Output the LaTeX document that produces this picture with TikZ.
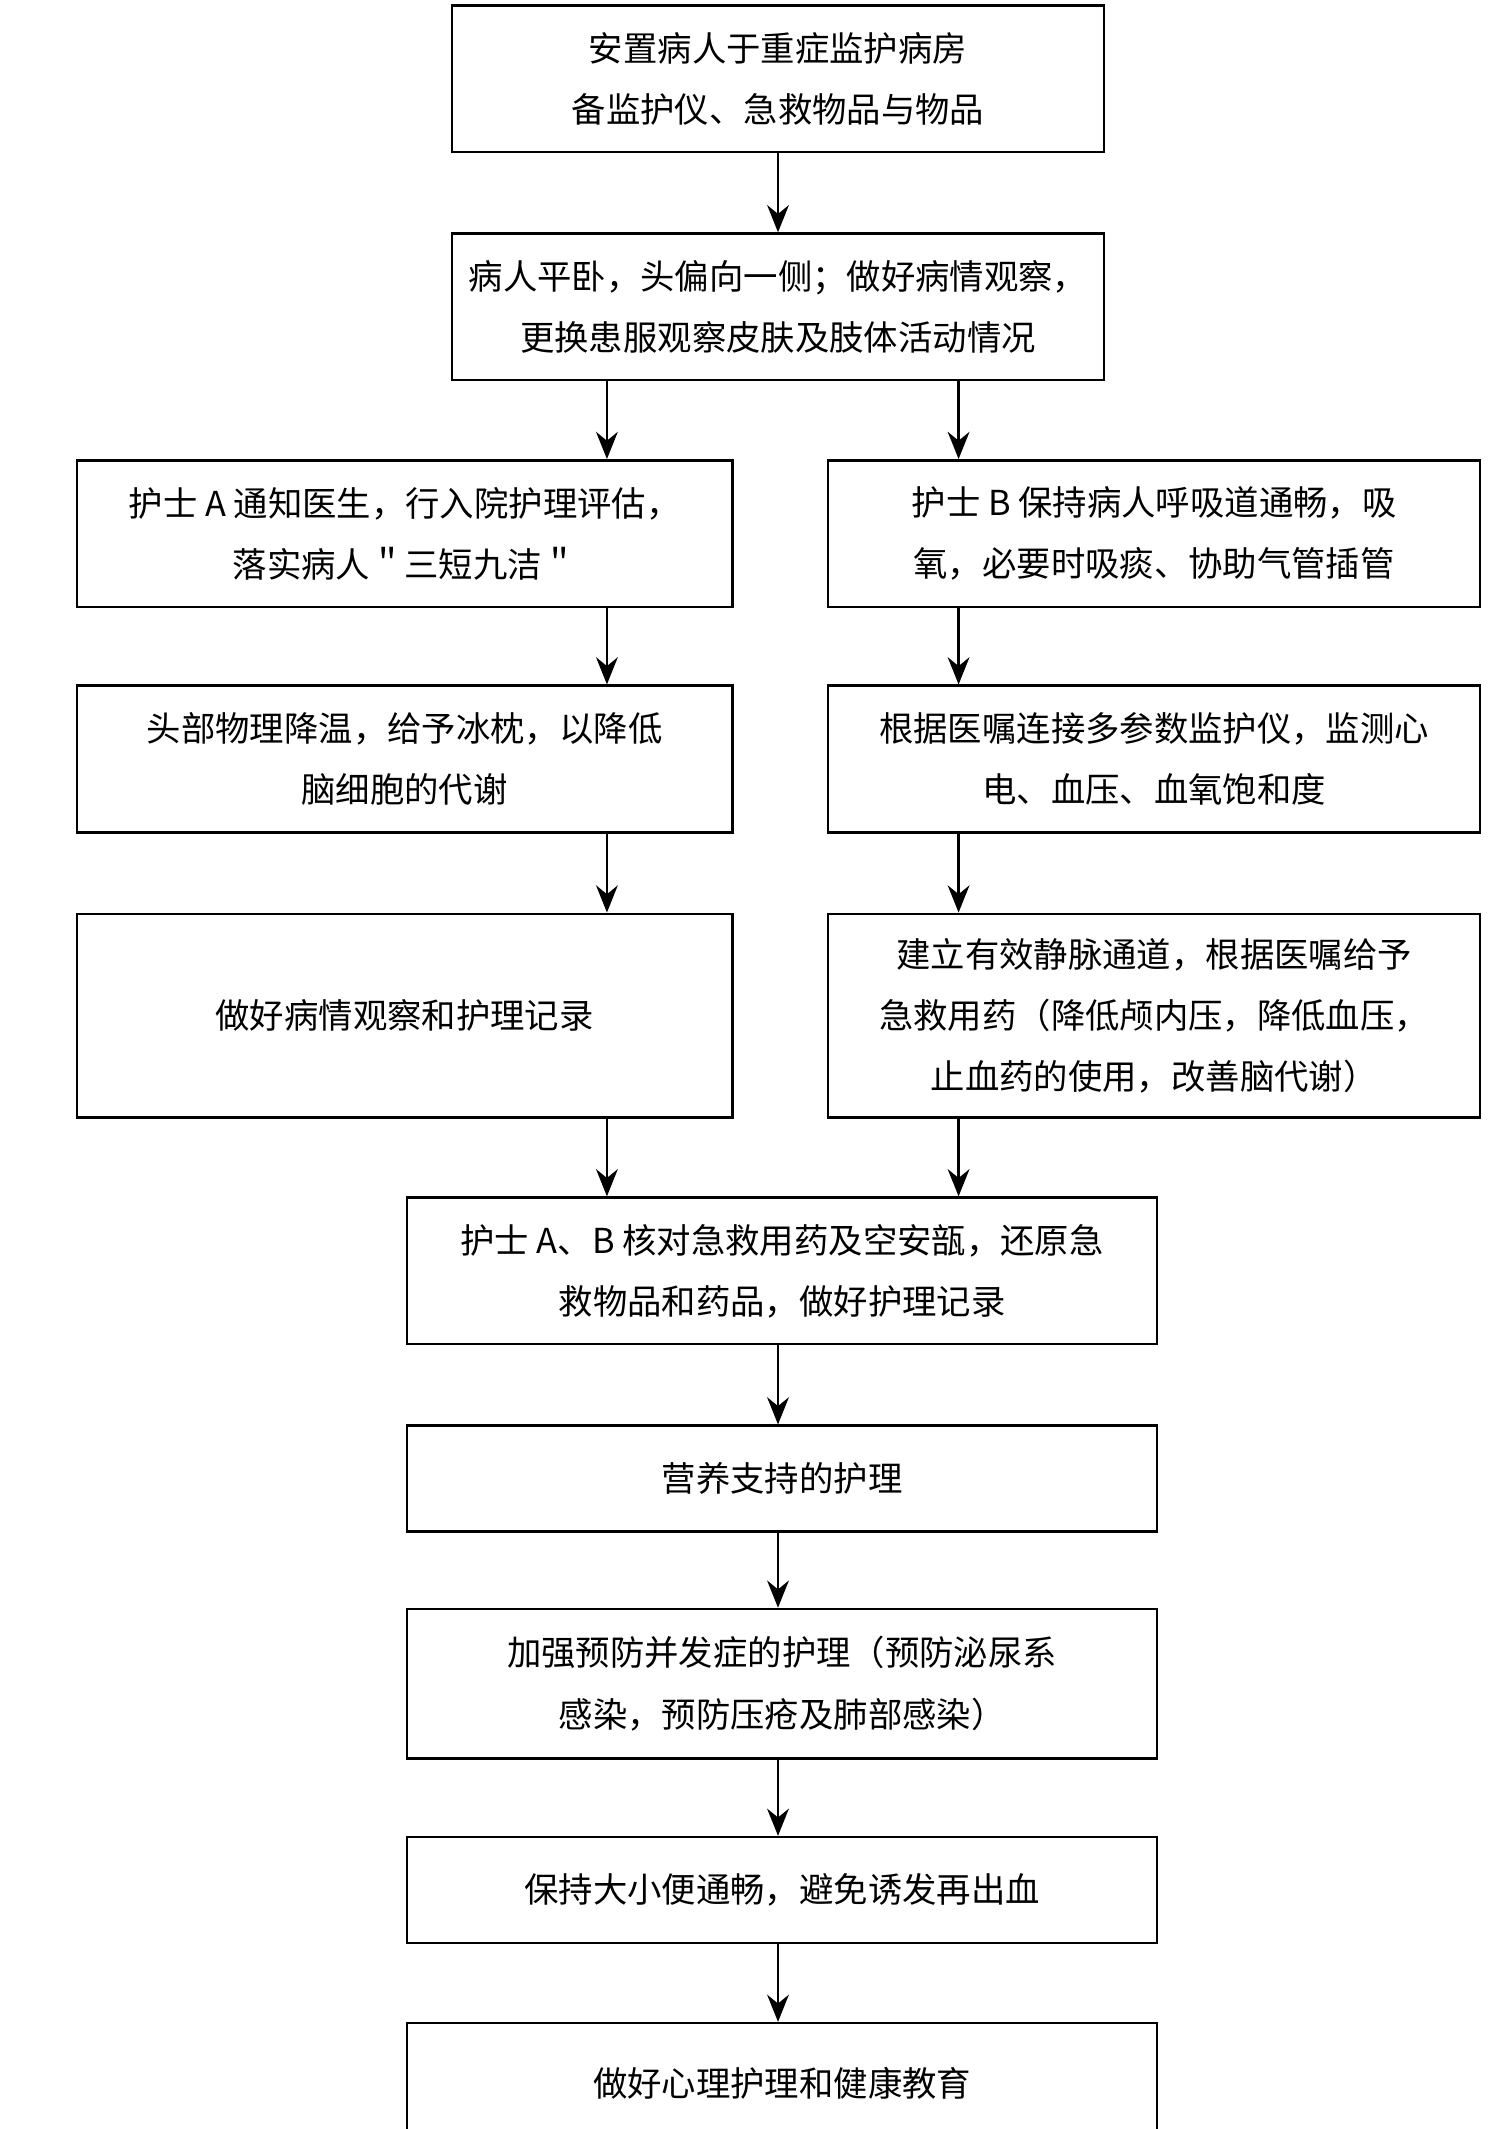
\documentclass[tikz,border=0pt]{standalone}
\usepackage{fontspec}
\setmainfont{Noto Sans CJK SC}
\usetikzlibrary{arrows.meta}
\begin{document}
\begin{tikzpicture}[x=0.025cm, y=-0.025cm, line width=1.3pt,
    box/.style = {draw, align=center, font=\fontsize{18}{32}\selectfont},
    arr/.style = {-{Stealth[length=5mm,width=4mm]}}]
    \useasboundingbox (0,0) rectangle (1097,1568);
    \coordinate (xl) at (447,0);
    \coordinate (xm) at (573,0);
    \coordinate (xr) at (706,0);
    \node[box, minimum width=12cm, minimum height=2.7cm] (b1) at (573,58) {安置病人于重症监护病房\\备监护仪、急救物品与物品};
    \node[box, minimum width=12cm, minimum height=2.7cm] (b2) at (573,226) {病人平卧，头偏向一侧；做好病情观察，\\更换患服观察皮肤及肢体活动情况};
    \node[box, minimum width=12.07cm, minimum height=2.7cm] (b3l) at (298,393) {护士 A 通知医生，行入院护理评估，\\落实病人＂三短九洁＂};
    \node[box, minimum width=12cm, minimum height=2.7cm] (b3r) at (850,393) {护士 B 保持病人呼吸道通畅，吸\\氧，必要时吸痰、协助气管插管};
    \node[box, minimum width=12.07cm, minimum height=2.7cm] (b4l) at (298,559) {头部物理降温，给予冰枕，以降低\\脑细胞的代谢};
    \node[box, minimum width=12cm, minimum height=2.7cm] (b4r) at (850,559) {根据医嘱连接多参数监护仪，监测心\\电、血压、血氧饱和度};
    \node[box, minimum width=12.07cm, minimum height=3.75cm] (b5l) at (298,748) {做好病情观察和护理记录};
    \node[box, minimum width=12cm, minimum height=3.75cm] (b5r) at (850,748) {建立有效静脉通道，根据医嘱给予\\急救用药（降低颅内压，降低血压，\\止血药的使用，改善脑代谢）};
    \node[box, minimum width=13.8cm, minimum height=2.7cm] (b6) at (576,936) {护士 A、B 核对急救用药及空安瓿，还原急\\救物品和药品，做好护理记录};
    \node[box, minimum width=13.8cm, minimum height=1.95cm] (b7) at (576,1089) {营养支持的护理};
    \node[box, minimum width=13.8cm, minimum height=2.75cm] (b8) at (576,1240) {加强预防并发症的护理（预防泌尿系\\感染，预防压疮及肺部感染）};
    \node[box, minimum width=13.8cm, minimum height=1.95cm] (b9) at (576,1392) {保持大小便通畅，避免诱发再出血};
    \node[box, minimum width=13.8cm, minimum height=2.2cm] (b10) at (576,1534) {做好心理护理和健康教育};
    \draw[arr] (b1.south -| xm) -- (b2.north -| xm);
    \draw[arr] (b2.south -| xl) -- (b3l.north -| xl);
    \draw[arr] (b2.south -| xr) -- (b3r.north -| xr);
    \draw[arr] (b3l.south -| xl) -- (b4l.north -| xl);
    \draw[arr] (b3r.south -| xr) -- (b4r.north -| xr);
    \draw[arr] (b4l.south -| xl) -- (b5l.north -| xl);
    \draw[arr] (b4r.south -| xr) -- (b5r.north -| xr);
    \draw[arr] (b5l.south -| xl) -- (b6.north -| xl);
    \draw[arr] (b5r.south -| xr) -- (b6.north -| xr);
    \draw[arr] (b6.south -| xm) -- (b7.north -| xm);
    \draw[arr] (b7.south -| xm) -- (b8.north -| xm);
    \draw[arr] (b8.south -| xm) -- (b9.north -| xm);
    \draw[arr] (b9.south -| xm) -- (b10.north -| xm);
\end{tikzpicture}
\end{document}
